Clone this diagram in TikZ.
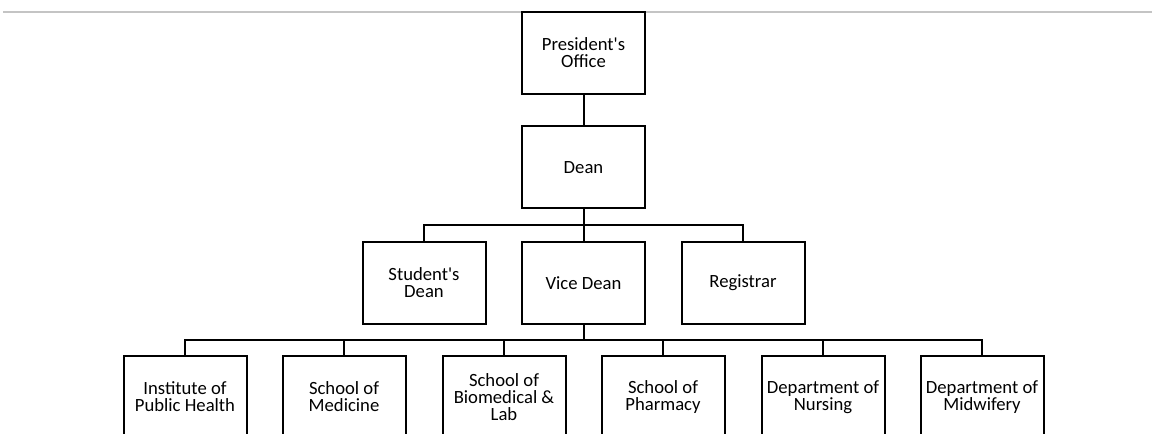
\documentclass[tikz,border=0pt]{standalone}
\usepackage{fontspec}
\setmainfont{Carlito}
\usepackage{tikz}
\usetikzlibrary{positioning,calc}
\definecolor{RuleGrey}{HTML}{C4C4C4}
\newcommand{\apos}{\textquotesingle}

\begin{document}
\begin{tikzpicture}[x=0.75pt,y=-0.75pt,
    unit/.style={draw,line width=1.5pt,align=center,inner sep=0pt,minimum width=92.25pt,minimum height=61.5pt,font=\fontsize{14}{12.8}\selectfont},
    link/.style={line width=1.5pt}]
  \useasboundingbox (0,0) rectangle (1152,434);
  \clip (0,0) rectangle (1152,434);
  \draw[RuleGrey,line width=0.8pt] (3,12) -- (1152,12);
  % top
  \node[unit] (pres) at (583.5,53){President\apos s\\Office};
  \node[unit] (dean) at (583.5,167.5){Dean};
  % second row
  \node[unit] (sdean) at (424,283){Student\apos s\\Dean};
  \node[unit] (vdean) at (583.5,283){Vice Dean};
  \node[unit] (reg) at (743,283){Registrar};
  % schools
  \node[unit] (iph) at (185,397){Institute of\\Public Health};
  \node[unit] (som) at (344,397){School of\\Medicine};
  \node[unit] (sbl) at (504,397){School of\\Biomedical \&\\Lab};
  \node[unit] (sph) at (663,397){School of\\Pharmacy};
  \node[unit] (dnur) at (823,397){Department of\\Nursing};
  \node[unit] (dmid) at (982,397){Department of\\Midwifery};
  \coordinate (bar1) at (583.5,225.3);
  \coordinate (bar2) at (583.5,340);
  \draw[link] (pres.south) -- (dean.north);
  \draw[link] (dean.south) -- (vdean.north);
  \draw[link] (sdean.north) |- (bar1) -| (reg.north);
  \draw[link] (vdean.south) -- (bar2);
  \draw[link] (iph.north) |- (bar2) -| (dmid.north);
  \foreach \s in {som,sbl,sph,dnur}
    \draw[link] (\s.north) -- (\s.north |- bar2);
\end{tikzpicture}
\end{document}
